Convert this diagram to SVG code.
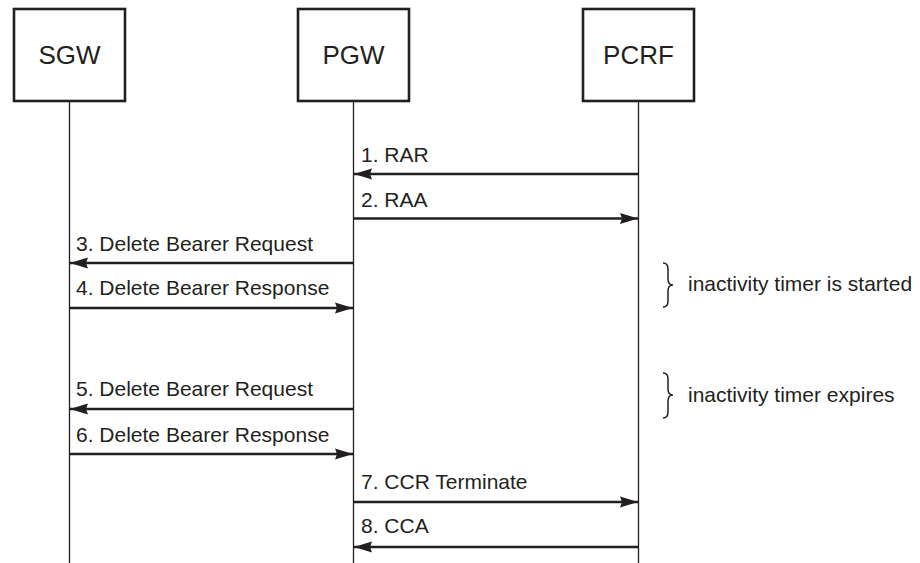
<svg xmlns="http://www.w3.org/2000/svg" width="920" height="563" viewBox="0 0 920 563">
  <style>
    .box { fill: #ffffff; stroke: #231f20; stroke-width: 2.6; }
    .lbl { font-family: "Liberation Sans", Arial, sans-serif; font-size: 26px; fill: #231f20; text-anchor: middle; }
    .life { stroke: #231f20; stroke-width: 1.3; fill: none; }
    .msg { stroke: #231f20; stroke-width: 2.4; fill: none; marker-end: url(#arrow); }
    .txt { font-family: "Liberation Sans", Arial, sans-serif; font-size: 21px; fill: #231f20; }
    .brace { stroke: #231f20; stroke-width: 1.5; fill: none; }
  </style>
  <defs>
    <marker id="arrow" markerUnits="userSpaceOnUse" markerWidth="19" markerHeight="13" refX="18" refY="6.5" orient="auto">
      <path d="M0,1 L18,6.5 L0,12 L2,6.5 Z" fill="#231f20"/>
    </marker>
  </defs>
  <rect width="920" height="563" fill="#ffffff"/>

  <g id="sgw">
    <rect class="box" x="14" y="9" width="111" height="92"/>
    <text class="lbl" x="69.5" y="64">SGW</text>
  </g>
  <g id="pgw">
    <rect class="box" x="298" y="9" width="111" height="92"/>
    <text class="lbl" x="353.5" y="64">PGW</text>
  </g>
  <g id="pcrf">
    <rect class="box" x="583" y="9" width="111" height="92"/>
    <text class="lbl" x="638.5" y="64">PCRF</text>
  </g>

  <g id="lifelines">
    <line class="life" x1="69.5" y1="102" x2="69.5" y2="563"/>
    <line class="life" x1="353.5" y1="102" x2="353.5" y2="563"/>
    <line class="life" x1="638.5" y1="102" x2="638.5" y2="563"/>
  </g>

  <g id="connectors">
    <line class="msg" x1="638.5" y1="174" x2="354" y2="174"/>
    <line class="msg" x1="353.5" y1="218.5" x2="638" y2="218.5"/>
    <line class="msg" x1="353.5" y1="263" x2="70" y2="263"/>
    <line class="msg" x1="69.5" y1="308" x2="353" y2="308"/>
    <line class="msg" x1="353.5" y1="409" x2="70" y2="409"/>
    <line class="msg" x1="69.5" y1="454" x2="353" y2="454"/>
    <line class="msg" x1="353.5" y1="502" x2="638" y2="502"/>
    <line class="msg" x1="638.5" y1="547" x2="354" y2="547"/>
  </g>

  <g id="labels">
    <text class="txt" x="361" y="162">1. RAR</text>
    <text class="txt" x="361" y="207">2. RAA</text>
    <text class="txt" x="76" y="251">3. Delete Bearer Request</text>
    <text class="txt" x="76" y="295">4. Delete Bearer Response</text>
    <text class="txt" x="76" y="396">5. Delete Bearer Request</text>
    <text class="txt" x="76" y="442">6. Delete Bearer Response</text>
    <text class="txt" x="361" y="489">7. CCR Terminate</text>
    <text class="txt" x="361" y="533">8. CCA</text>
  </g>

  <g id="timer-started">
    <path class="brace" d="M663,263 Q668,263 668,269 L668,279 Q668,285 673,285 Q668,285 668,291 L668,301 Q668,307 663,307"/>
    <text class="txt" x="688" y="291">inactivity timer is started</text>
  </g>
  <g id="timer-expires">
    <path class="brace" d="M663,373 Q668,373 668,379 L668,389 Q668,395 673,395 Q668,395 668,401 L668,412 Q668,418 663,418"/>
    <text class="txt" x="688" y="402">inactivity timer expires</text>
  </g>
</svg>
